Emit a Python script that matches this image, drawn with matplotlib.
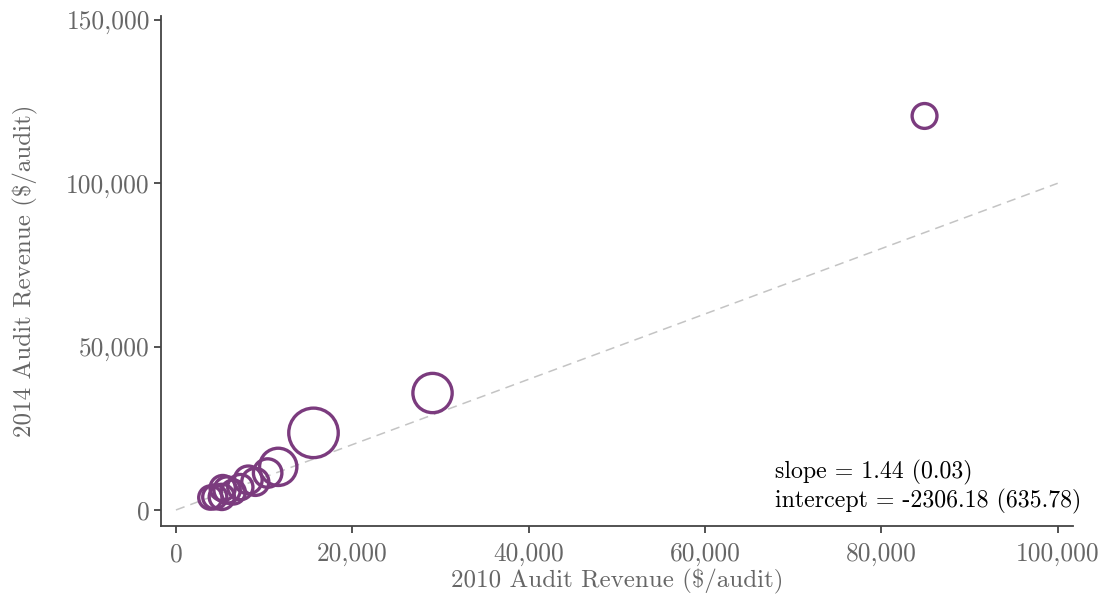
import numpy as np
import matplotlib
matplotlib.use('Agg')
import matplotlib.pyplot as plt
from matplotlib.ticker import FuncFormatter

# revenue per audit
rev_2010 = [84900, 29100, 15600, 11600, 10400, 8200, 7300, 9000, 5800, 5300, 5200, 4400, 3900, 6500]
rev_2014 = [120600, 35800, 23600, 13200, 11300, 9200, 7000, 8600, 6100, 6700, 4000, 4000, 3800, 5500]
# marker areas (pt^2)
marker_area = [320, 800, 1270, 720, 420, 400, 330, 380, 360, 330, 330, 300, 280, 300]

slope_txt = 'slope = 1.44 (0.03)'
intercept_txt = 'intercept = -2306.18 (635.78)'

plt.rcParams['font.family'] = ['cmr10', 'DejaVu Serif']
plt.rcParams['axes.unicode_minus'] = False
plt.rcParams['axes.formatter.use_mathtext'] = True

purple = '#7b3b7e'
grey = '#666666'

fig = plt.figure(figsize=(11.07, 5.99), dpi=100)
ax = fig.add_axes([0.1454, 0.1219, 0.8236, 0.8514])

# 45 degree reference line
ax.plot([0, 100000], [0, 100000], ls=(0, (6, 4)), color='#c4c4c4', lw=1.1, zorder=1)

ax.scatter(rev_2010, rev_2014, s=marker_area, facecolors='none',
           edgecolors=purple, linewidths=2.4, zorder=2)

ax.set_xlim(-1700, 101700)
ax.set_ylim(-4900, 151200)
ax.set_xticks([0, 20000, 40000, 60000, 80000, 100000])
ax.set_yticks([0, 50000, 100000, 150000])
fmt = FuncFormatter(lambda v, p: '{:,.0f}'.format(v))
ax.xaxis.set_major_formatter(fmt)
ax.yaxis.set_major_formatter(fmt)

for s in ['top', 'right']:
    ax.spines[s].set_visible(False)
for s in ['left', 'bottom']:
    ax.spines[s].set_color('#444444')
    ax.spines[s].set_linewidth(1.3)
ax.tick_params(colors='#444444', labelcolor=grey, labelsize=18.3, length=5, width=1.3)
ax.tick_params(axis='x', pad=7)
ax.tick_params(axis='y', pad=3)

ax.set_xlabel('2010 Audit Revenue ($/audit)', fontsize=18, color=grey, labelpad=2)
ax.set_ylabel('2014 Audit Revenue ($/audit)', fontsize=18, color=grey, labelpad=20)

ax.text(0.673, 0.094, slope_txt, transform=ax.transAxes, fontsize=17.2, color='black', va='baseline')
ax.text(0.673, 0.037, intercept_txt, transform=ax.transAxes, fontsize=17.2, color='black', va='baseline')

fig.savefig('out.png', dpi=100)
